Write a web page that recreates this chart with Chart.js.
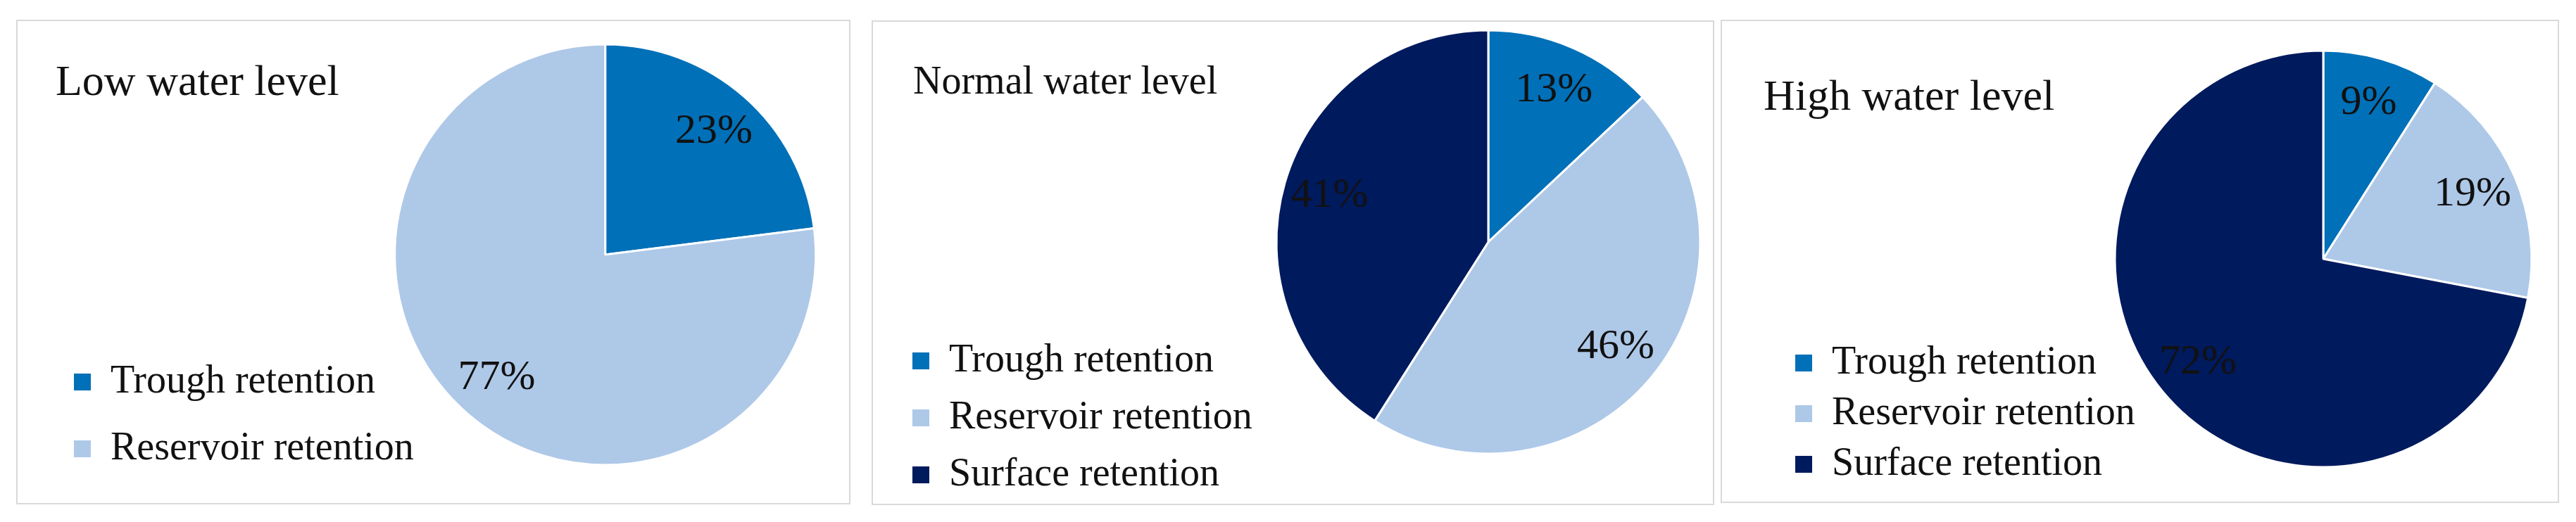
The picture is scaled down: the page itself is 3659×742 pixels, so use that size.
<!DOCTYPE html>
<html>
<head>
<meta charset="utf-8">
<script src="https://cdn.jsdelivr.net/npm/chart.js@4.4.1/dist/chart.umd.min.js"></script>
<style>
  html, body { margin: 0; padding: 0; background: #fff; overflow: hidden; }
  body { width: 3659px; height: 742px; position: relative; }
  .panel { position: absolute; box-sizing: border-box; border: 2px solid #d9d9d9; background: #fff; }
  .title { position: absolute; font-family: "Liberation Serif", "Times New Roman", serif; line-height: 1; color: #111; white-space: nowrap; }
  canvas { position: absolute; }
</style>
</head>
<body>
<div class="panel" style="left:23px; top:28px; width:1185px; height:689px;"></div>
<div class="panel" style="left:1238px; top:29px; width:1197px; height:689px;"></div>
<div class="panel" style="left:2444px; top:28px; width:1191px; height:687px;"></div>

<div class="title" id="title-low" style="left:79px; top:83px; font-size:62px;"></div>
<div class="title" id="title-normal" style="left:1297px; top:86px; font-size:56px;"></div>
<div class="title" id="title-high" style="left:2505px; top:104px; font-size:62px;"></div>

<canvas id="chart-low" width="1134" height="686" style="left:66px; top:19px;"></canvas>
<canvas id="chart-normal" width="1204" height="768" style="left:1271px; top:-40px;"></canvas>
<canvas id="chart-high" width="1106" height="672" style="left:2534px; top:32px;"></canvas>

<script>
const categories = ["Trough retention", "Reservoir retention", "Surface retention"]
const sliceColors = ["#0070b8", "#aec8e8", "#001a5e"]

const titleLow = "Low water level"
const titleNormal = "Normal water level"
const titleHigh = "High water level"

// percentages
const lowValues = [23, 77]
const normalValues = [13, 46, 41]
const highValues = [9, 19, 72]

const serif = "'Liberation Serif', 'Times New Roman', serif"
const legendFontSize = 56
const legendBox = 24

// writes "23%" etc. inside each slice
const sliceLabels = {
  id: "sliceLabels",
  afterDatasetsDraw(chart) {
    const ctx = chart.ctx
    const meta = chart.getDatasetMeta(0)
    const values = chart.data.datasets[0].data
    ctx.save()
    ctx.font = "60px " + serif
    ctx.fillStyle = "#111"
    ctx.textAlign = "center"
    ctx.textBaseline = "middle"
    meta.data.forEach((arc, i) => {
      const p = arc.getProps(["x", "y", "startAngle", "endAngle", "outerRadius"], true)
      const mid = (p.startAngle + p.endAngle) / 2
      const r = p.outerRadius * 0.78
      ctx.fillText(values[i] + "%", p.x + Math.cos(mid) * r, p.y + Math.sin(mid) * r)
    })
    ctx.restore()
  }
}

function makePie(canvasId, values, radius, legendGap, centerX) {
  const canvas = document.querySelector(canvasId)
  const labels = categories.slice(0, values.length)

  // legend on the left eats its own width, so pad the right side to keep the pie where it belongs
  const measure = document.createElement("canvas").getContext("2d")
  measure.font = legendFontSize + "px " + serif
  const textWidth = Math.max(...labels.map(t => measure.measureText(t).width))
  const legendWidth = legendGap + legendBox + legendFontSize / 2 + textWidth + 10
  const rightPad = Math.max(canvas.width - (2 * centerX - legendWidth), 0)

  const data = {
    labels: labels,
    datasets: [{
      data: values,
      backgroundColor: sliceColors.slice(0, values.length),
      borderColor: "#ffffff",
      borderWidth: 3,
      radius: radius
    }]
  }
  const config = {
    type: "pie",
    data: data,
    options: {
      responsive: false,
      animation: false,
      layout: { padding: { left: 0, top: 0, bottom: 0, right: rightPad } },
      plugins: {
        tooltip: { enabled: false },
        legend: {
          position: "left",
          align: "end",
          labels: {
            color: "#111",
            font: { family: serif, size: legendFontSize },
            boxWidth: legendBox,
            boxHeight: legendBox,
            padding: legendGap,
            generateLabels: (chart) => {
              const items = Chart.overrides.pie.plugins.legend.labels.generateLabels(chart)
              return items.map(item => ({ ...item, lineWidth: 0 }))
            }
          }
        }
      }
    },
    plugins: [sliceLabels]
  }
  return new Chart(canvas, config)
}

document.querySelector("#title-low").textContent = titleLow
document.querySelector("#title-normal").textContent = titleNormal
document.querySelector("#title-high").textContent = titleHigh

makePie("#chart-low", lowValues, 299, 39, 795)
makePie("#chart-normal", normalValues, 301, 25, 843)
makePie("#chart-high", highValues, 296, 16, 766)
</script>
</body>
</html>
